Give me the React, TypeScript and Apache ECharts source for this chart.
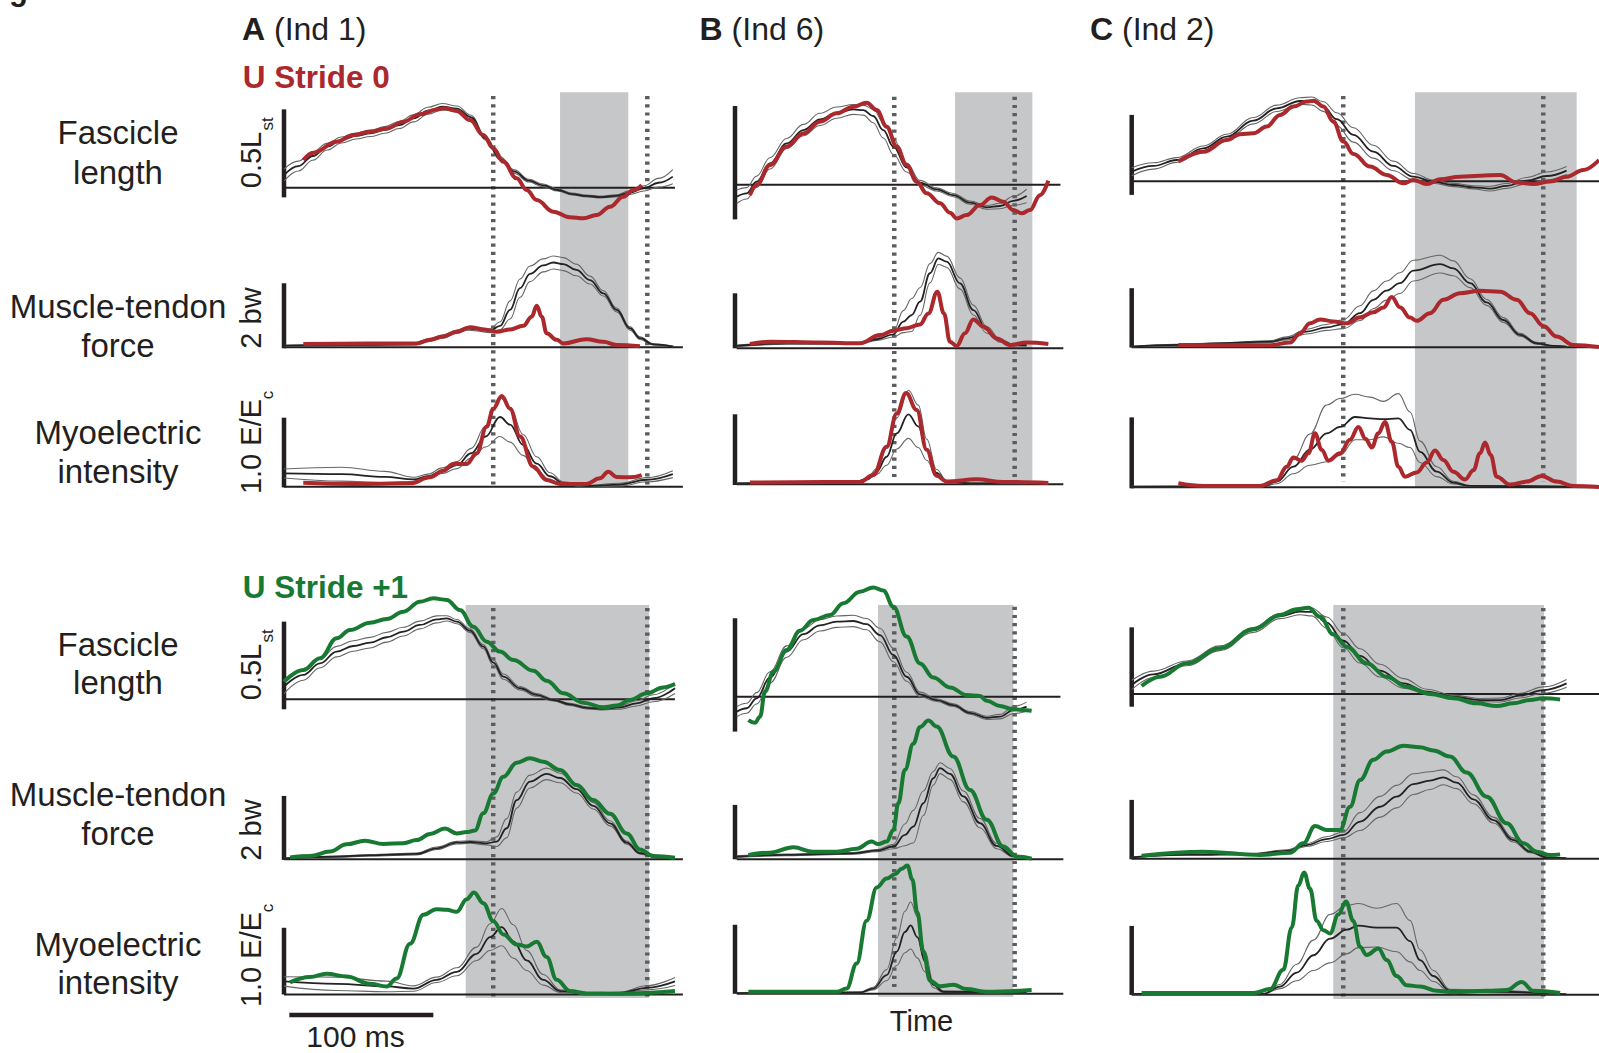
import React, { useEffect, useRef } from 'react';
import * as echarts from 'echarts';

// ---------------- DATA ----------------
// time in ms from each column's scale bar; grey = [t, mean, sd]; coloured = [t, value]
// Fascicle length in Lst, force in bw, myoelectric intensity in E/Ec

// Stride 0, column A (Ind 1)
const fasA0Grey = [[0,0.072,0.034],[10,0.123,0.028],[20,0.18,0.024],[30,0.233,0.019],[40,0.271,0.017],[50,0.294,0.017],[60,0.309,0.018],[70,0.328,0.019],[80,0.356,0.02],[90,0.394,0.02],[100,0.4375,0.02],[110,0.46,0.018],[120,0.449,0.015],[130,0.4,0.012],[140,0.28,0.01],[150,0.167,0.01],[160,0.091,0.01],[170,0.04,0.008],[180,0.013,0.008],[190,-0.013,0.006],[200,-0.036,0.005],[210,-0.047,0.005],[220,-0.053,0.005],[230,-0.047,0.006],[240,-0.028,0.01],[250,-0.004,0.015],[260,0.028,0.025],[270,0.063,0.04]];
const fasA0Red = [[13.4,0.157],[20.4,0.199],[36.6,0.261],[48.1,0.299],[59.7,0.318],[71.3,0.337],[82.9,0.375],[94.4,0.417],[106,0.445],[111.8,0.451],[119.9,0.436],[129.2,0.384],[138.4,0.299],[145.4,0.223],[152.3,0.148],[161.6,0.053],[168.5,-0.013],[175.5,-0.07],[187,-0.136],[198.6,-0.168],[207.9,-0.174],[217.1,-0.155],[226.4,-0.108],[235.6,-0.051],[242.6,-0.013],[248.4,0.015]];
const frcA0Grey = [[0,0.05,0.01],[40,0.07,0.02],[90,0.1,0.03],[100,0.21,0.04],[110,0.33,0.05],[120,0.48,0.05],[126.9,0.58,0.05],[133.8,0.55,0.05],[143.1,0.51,0.06],[150,0.66,0.12],[157,1.15,0.28],[163.9,1.82,0.28],[170.8,2.26,0.24],[180,2.52,0.2],[187,2.61,0.2],[194,2.56,0.2],[203,2.38,0.18],[212.5,2.07,0.12],[221.8,1.66,0.08],[231,1.15,0.06],[240.3,0.58,0.05],[247.2,0.28,0.04],[256.5,0.09,0.02],[270.4,0.02,0.01]];
const frcA0Red = [[13.4,0.1],[59.7,0.12],[92,0.12],[101.4,0.23],[110.6,0.33],[120,0.48],[129.2,0.62],[138.4,0.55],[147.7,0.48],[157,0.55],[166.2,0.66],[172,0.94],[175.5,1.28],[179,0.94],[182.4,0.43],[189.4,0.23],[194,0.12],[210,0.25],[221.8,0.17],[231,0.07],[247.2,0.03]];
const emgA0Grey = [[0,0.19,0.065],[40,0.18,0.1],[70,0.14,0.08],[90,0.105,0.03],[100,0.15,0.03],[110,0.23,0.04],[120,0.31,0.05],[130,0.48,0.07],[140,0.72,0.15],[150,1.0,0.28],[157,0.89,0.25],[166,0.6,0.15],[175.5,0.33,0.1],[184.7,0.15,0.05],[194,0.05,0.02],[210,0.01,0.01],[233,0.03,0.02],[252,0.1,0.03],[270,0.18,0.05]];
const emgA0Red = [[13.4,0.057],[48,0.04],[87.5,0.048],[101.4,0.134],[110.6,0.23],[117.6,0.325],[126.9,0.325],[133.8,0.48],[140.7,0.86],[145.4,1.12],[151.2,1.3],[157,1.12],[163.9,0.72],[173,0.29],[182.4,0.096],[191.7,0.04],[210,0.04],[219.4,0.12],[225.2,0.215],[231,0.14],[240.3,0.134],[248.4,0.167]];

// Stride 0, column B (Ind 6)
const fasB0Grey = [[1.2,-0.053,0.03],[8.1,-0.038,0.025],[15,0.013,0.025],[24.3,0.094,0.025],[35.9,0.182,0.022],[47.5,0.241,0.025],[59,0.288,0.027],[70.6,0.318,0.025],[82.2,0.332,0.022],[89.1,0.329,0.022],[96,0.303,0.03],[103,0.241,0.035],[110,0.168,0.035],[119.2,0.076,0.02],[128.5,0.009,0.01],[140,-0.021,0.007],[151.6,-0.046,0.007],[163.2,-0.079,0.007],[174.8,-0.1,0.008],[184,-0.094,0.012],[193.3,-0.071,0.02],[202.5,-0.05,0.03]];
const fasB0Red = [[10.4,-0.046],[15,-0.001],[24.3,0.087],[35.9,0.168],[47.5,0.226],[59,0.278],[70.6,0.315],[82.2,0.344],[91.4,0.362],[98.4,0.329],[105.3,0.256],[112.3,0.168],[119.2,0.087],[126.2,0.013],[133.1,-0.038],[142.4,-0.082],[149.3,-0.124],[154,-0.149],[160.9,-0.134],[170.1,-0.09],[178.2,-0.056],[186.3,-0.075],[193.3,-0.112],[199,-0.126],[204.9,-0.112],[211.8,-0.046],[217.6,0.018]];
const frcB0Grey = [[1.2,0.085,0.03],[35.9,0.18,0.03],[86.8,0.18,0.03],[98.4,0.33,0.04],[110,0.51,0.1],[116.9,0.97,0.4],[122.7,1.21,0.6],[128.5,1.7,0.5],[135.4,2.73,0.35],[141.2,3.27,0.22],[147,3.15,0.2],[156.2,2.36,0.2],[165.5,1.39,0.18],[174.8,0.67,0.12],[184,0.28,0.06],[193.3,0.12,0.03],[202.5,0.11,0.02]];
const frcB0Red = [[10.4,0.16],[24.3,0.24],[59,0.21],[86.8,0.18],[100.7,0.48],[110,0.64],[119.2,0.73],[128.5,0.87],[134.3,1.27],[140.5,2.06],[145.1,1.27],[149.3,0.24],[154,0.085],[159.7,0.55],[165.5,1.05],[172.5,0.79],[181.7,0.36],[191,0.12],[202.5,0.21],[217.6,0.16]];
const emgB0Grey = [[1.2,0.014,0.005],[82.2,0.024,0.005],[91.4,0.07,0.01],[98.4,0.18,0.04],[105.3,0.39,0.12],[112.3,0.72,0.22],[120.4,0.99,0.34],[127.3,0.82,0.3],[133.1,0.49,0.15],[140,0.16,0.05],[147,0.04,0.01],[163.2,0.014,0.005],[202.5,0.014,0.005]];
const emgB0Red = [[10.4,0.024],[86.8,0.033],[96,0.13],[105.3,0.53],[112.3,1.0],[118.8,1.29],[126.2,1.05],[133.1,0.49],[140,0.12],[147,0.04],[167.8,0.07],[186.3,0.033],[217.6,0.02]];

// Stride 0, column C (Ind 2)
const fasC0Grey = [[0,0.06,0.025],[15,0.096,0.02],[31.3,0.133,0.015],[49.8,0.206,0.015],[66,0.279,0.015],[84.5,0.379,0.02],[100.7,0.456,0.02],[116.9,0.502,0.02],[125,0.502,0.025],[133.1,0.467,0.03],[142.4,0.388,0.04],[154,0.29,0.045],[167.8,0.185,0.04],[181.7,0.096,0.03],[195.6,0.029,0.02],[209.5,-0.002,0.01],[223.4,-0.023,0.01],[237.3,-0.0375,0.01],[248.8,-0.046,0.015],[260.4,-0.029,0.015],[274.3,0.004,0.02],[288.2,0.033,0.025],[302,0.067,0.025]];
const fasC0Red = [[32.4,0.123],[49.8,0.185],[66,0.258],[75.2,0.294],[84.5,0.3],[93.75,0.342],[103,0.415],[112.3,0.467],[121.5,0.498],[126.6,0.504],[133.1,0.467],[140,0.373],[147,0.248],[154,0.171],[165.5,0.092],[177,0.04],[188.7,-0.0125],[195.6,0.008],[204.9,-0.017],[214.1,0.0125],[228,0.029],[241.9,0.035],[255.8,0.04],[267.4,-0.008],[279,-0.017],[290.5,-0.002],[302,0.029],[313.7,0.071],[324.5,0.133]];
const frcC0Grey = [[0,0.02,0.01],[31.3,0.08,0.02],[61.3,0.135,0.02],[96,0.19,0.03],[107.6,0.3,0.05],[121.5,0.53,0.08],[135.4,0.67,0.1],[147,0.78,0.15],[158.6,1.15,0.25],[167.8,1.6,0.3],[177,1.91,0.32],[186.3,2.16,0.35],[195.6,2.58,0.35],[214.1,2.8,0.3],[223.4,2.66,0.25],[235,2.16,0.15],[246.5,1.51,0.1],[258.1,0.92,0.08],[269.7,0.42,0.05],[281.2,0.135,0.03],[292.8,0.045,0.01],[302,0.02,0.005]];
const frcC0Red = [[32.4,0.08],[61.3,0.07],[96,0.07],[110,0.16],[116.9,0.47],[123.8,0.81],[130.8,0.94],[140,0.87],[149.3,0.81],[158.6,1.01],[167.8,1.18],[174.8,1.34],[180.6,1.69],[186.3,1.35],[193.3,1.0],[197.9,0.89],[207.2,1.15],[216.4,1.6],[228,1.82],[241.9,1.9],[255.8,1.87],[267.4,1.6],[276.6,1.15],[285.9,0.72],[295.1,0.36],[306.7,0.08],[324.5,0.01]];
const emgC0Grey = [[0,0.01,0.003],[91.4,0.014,0.005],[100.7,0.08,0.03],[112.3,0.29,0.1],[123.8,0.53,0.22],[135.4,0.76,0.4],[144.7,0.85,0.4],[155.1,0.99,0.32],[165.5,0.97,0.3],[174.8,0.96,0.25],[185.2,0.97,0.35],[193.3,0.81,0.25],[200.2,0.5,0.15],[211.8,0.22,0.07],[223.4,0.066,0.02],[235,0.019,0.005],[302,0.01,0.003]];
const emgC0Red = [[32.4,0.056],[49.8,0.019],[89.1,0.019],[100.7,0.1],[107.6,0.29],[112.3,0.42],[118,0.375],[122.7,0.48],[127.3,0.76],[131.9,0.53],[136.6,0.375],[144.7,0.48],[151.6,0.67],[157.4,0.85],[162.5,0.68],[166.7,0.56],[171.3,0.76],[175.9,0.92],[180.6,0.64],[185.2,0.29],[189.8,0.15],[197.9,0.21],[204.9,0.35],[210.6,0.52],[216.4,0.385],[223.4,0.22],[231.5,0.11],[237.3,0.24],[241.9,0.48],[245.4,0.63],[249.3,0.455],[253.5,0.15],[262.7,0.038],[274.3,0.08],[284.7,0.16],[295.1,0.08],[306.7,0.019],[324.5,0.005]];

// Stride +1, column A
const fasA1Grey = [[0,0.072,0.04],[13.4,0.139,0.03],[25,0.205,0.025],[36.6,0.272,0.03],[48.1,0.304,0.03],[59.7,0.323,0.03],[71.3,0.354,0.028],[82.9,0.386,0.025],[94.4,0.424,0.022],[106,0.456,0.02],[113,0.462,0.015],[120,0.443,0.012],[129.2,0.392,0.01],[138.4,0.3,0.012],[145.4,0.209,0.015],[152.3,0.129,0.015],[163.9,0.063,0.01],[175.5,0.025,0.008],[187,-0.004,0.006],[198.6,-0.029,0.006],[210.2,-0.049,0.006],[221.8,-0.055,0.006],[233.3,-0.046,0.01],[244.9,-0.023,0.015],[256.5,0.006,0.02],[271.5,0.063,0.03]];
const fasA1Green = [[0,0.1],[13.4,0.167],[25,0.234],[36.6,0.348],[45.8,0.395],[59.7,0.437],[71.3,0.458],[82.9,0.5],[94.4,0.557],[103.7,0.576],[113,0.567],[122.2,0.51],[131.5,0.414],[140.7,0.329],[150,0.272],[159.3,0.224],[173.1,0.163],[182.4,0.106],[194,0.034],[207.9,-0.019],[221.8,-0.046],[231,-0.036],[240.3,-0.004],[251.9,0.034],[263.4,0.068],[271.5,0.087]];
const frcA1Grey = [[0,0.03,0.01],[36.6,0.083,0.02],[59.7,0.125,0.02],[92.1,0.167,0.03],[106,0.344,0.04],[120,0.52,0.04],[129.2,0.54,0.04],[140.7,0.5,0.05],[147.7,0.55,0.15],[154.6,0.97,0.3],[161.6,1.85,0.25],[170.8,2.43,0.2],[182.4,2.67,0.18],[191.7,2.54,0.15],[203.2,2.19,0.12],[214.8,1.67,0.1],[226.4,1.125,0.08],[238,0.52,0.05],[247.2,0.19,0.03],[258.8,0.05,0.01],[271.5,0.02,0.005]];
const frcA1Green = [[4.2,0.06],[18,0.1],[32,0.24],[43.5,0.47],[56.2,0.58],[69,0.48],[82.9,0.5],[92.1,0.6],[101.4,0.79],[111.8,0.96],[120,0.81],[126.9,0.85],[132.6,0.9],[138.4,1.44],[145.4,2.06],[152.3,2.58],[161.6,3.02],[170.8,3.16],[180,3.05],[191.7,2.79],[203.2,2.32],[214.8,1.85],[226.4,1.42],[238,0.81],[247.2,0.31],[256.5,0.1],[271.5,0.05]];
const emgA1Grey = [[0,0.195,0.07],[36.6,0.16,0.1],[71.3,0.12,0.08],[89.8,0.088,0.04],[106,0.22,0.04],[120,0.34,0.06],[133.8,0.61,0.1],[143.1,0.86,0.2],[151.2,1.01,0.28],[159.3,0.795,0.25],[168.5,0.51,0.15],[180,0.22,0.08],[191.7,0.05,0.02],[210.2,0.01,0.005],[233.3,0.025,0.01],[251.9,0.1,0.03],[271.5,0.195,0.06]];
const emgA1Green = [[4.2,0.18],[18,0.26],[29.6,0.31],[43.5,0.27],[59.7,0.16],[71.3,0.12],[78.2,0.24],[87.5,0.76],[96.8,1.195],[106,1.28],[113,1.27],[120,1.24],[126.9,1.43],[131.9,1.53],[138.4,1.37],[145.4,1.1],[152.3,0.9],[161.6,0.75],[168.5,0.72],[175.5,0.79],[182.4,0.56],[189.4,0.22],[198.6,0.05],[210.2,0.015],[233.3,0.01],[271.5,0.05]];

// Stride +1, column B
const fasB1Grey = [[1.2,-0.066,0.022],[8.1,-0.051,0.022],[15,-0.007,0.025],[24.3,0.085,0.025],[35.9,0.199,0.025],[47.5,0.276,0.025],[59,0.315,0.025],[70.6,0.331,0.025],[82.2,0.334,0.025],[91.4,0.32,0.025],[100.7,0.272,0.03],[110,0.184,0.03],[119.2,0.088,0.02],[128.5,0.01,0.01],[140,-0.015,0.006],[151.6,-0.037,0.006],[163.2,-0.071,0.006],[174.8,-0.093,0.007],[184,-0.088,0.01],[193.3,-0.059,0.015],[202.5,-0.044,0.02]];
const fasB1Green = [[9.3,-0.103],[13.9,-0.115],[17.4,-0.088],[20.8,0.022],[26.6,0.11],[35.9,0.206],[45.1,0.291],[54.4,0.338],[66,0.36],[75.2,0.412],[86.8,0.463],[96.1,0.482],[103,0.468],[110,0.397],[119.2,0.265],[128.5,0.147],[137.7,0.085],[149.3,0.041],[160.9,0.007],[170.1,0.003],[174.8,-0.018],[184,-0.041],[193.3,-0.056],[206,-0.062]];
const frcB1Grey = [[1.2,0.1,0.03],[35.9,0.16,0.03],[82.2,0.22,0.03],[98.4,0.32,0.04],[110,0.47,0.08],[118,0.9,0.4],[123.8,1.2,0.6],[130.8,2.06,0.45],[137.7,2.98,0.25],[142.4,3.35,0.2],[149.3,3.14,0.2],[158.6,2.31,0.2],[170.1,1.33,0.17],[181.7,0.49,0.1],[193.3,0.12,0.03],[202.5,0.07,0.02]];
const frcB1Green = [[9.3,0.16],[24.3,0.245],[40.5,0.44],[54.4,0.28],[70.6,0.28],[84.5,0.39],[94.9,0.65],[99.5,0.56],[105.3,0.65],[110,1.08],[113.4,2.06],[118,3.29],[123.8,4.25],[128.5,4.86],[134.3,5.1],[140,4.88],[151.6,3.78],[163.2,2.55],[174.8,1.45],[186.3,0.47],[195.6,0.1],[206,0.02]];
const emgB1Grey = [[1.2,0.01,0.005],[86.8,0.02,0.005],[96,0.076,0.02],[105.3,0.27,0.08],[112.3,0.61,0.2],[118,0.895,0.3],[122,0.99,0.34],[126.6,0.82,0.3],[131.9,0.47,0.15],[137.7,0.13,0.04],[144.7,0.03,0.01],[202.5,0.015,0.005]];
const emgB1Green = [[9.3,0.029],[70.6,0.029],[77.5,0.076],[84.5,0.44],[91.4,1.06],[98.4,1.54],[105.3,1.67],[111.1,1.73],[115.7,1.81],[119.7,1.86],[123.1,1.66],[126.6,1.18],[130.8,0.61],[135.4,0.19],[142.4,0.11],[151.6,0.13],[160.9,0.07],[174.8,0.029],[206,0.057]];

// Stride +1, column C
const fasC1Grey = [[0,0.057,0.03],[15,0.124,0.02],[38.2,0.193,0.015],[61.3,0.288,0.015],[84.5,0.403,0.015],[103,0.49,0.015],[116.9,0.519,0.02],[125,0.517,0.025],[135.4,0.45,0.035],[147,0.336,0.045],[158.6,0.24,0.045],[172.5,0.147,0.04],[188.7,0.067,0.03],[204.9,0.015,0.015],[223.4,-0.017,0.01],[241.9,-0.038,0.01],[255.8,-0.038,0.012],[269.7,-0.01,0.015],[285.9,0.025,0.02],[302,0.067,0.025]];
const fasC1Green = [[6.9,0.05],[19.7,0.109],[38.2,0.193],[61.3,0.288],[84.5,0.408],[103,0.498],[114.6,0.534],[122.7,0.544],[130.8,0.487],[140,0.376],[149.3,0.298],[163.2,0.193],[177,0.109],[191,0.046],[207.2,0.0],[223.4,-0.027],[239.6,-0.059],[253.5,-0.076],[265,-0.059],[276.6,-0.038],[285.9,-0.027],[297.5,-0.034]];
const frcC1Grey = [[0,0.045,0.01],[38.2,0.135,0.02],[84.5,0.157,0.02],[107.6,0.26,0.04],[121.5,0.46,0.05],[135.4,0.66,0.08],[147,0.8,0.1],[158.6,1.25,0.3],[172.5,1.75,0.35],[184,2.09,0.38],[195.6,2.51,0.35],[207.2,2.63,0.3],[216.4,2.74,0.25],[225.7,2.56,0.2],[237.3,2.0,0.15],[251.2,1.3,0.1],[265,0.63,0.07],[276.6,0.24,0.04],[288.2,0.045,0.01],[302,0.01,0.005]];
const frcC1Green = [[6.9,0.1],[49.8,0.236],[89.1,0.124],[110,0.2],[119.2,0.52],[127.3,1.1],[135.4,0.97],[144.7,0.97],[151.6,1.75],[158.6,2.65],[167.8,3.33],[177,3.61],[188.7,3.8],[200.2,3.75],[209.5,3.64],[221,3.44],[232.6,2.9],[246.5,2.09],[260.4,1.19],[272,0.52],[281.2,0.236],[290.5,0.124],[297.5,0.146]];
const emgC1Grey = [[0,0.01,0.003],[91.4,0.01,0.003],[103,0.117,0.03],[114.6,0.32,0.12],[126.2,0.57,0.22],[137.7,0.81,0.35],[149.3,0.94,0.35],[157.4,1.0,0.32],[170.1,0.97,0.28],[184,0.97,0.35],[193.3,0.775,0.3],[200.2,0.5,0.15],[209.5,0.27,0.08],[221,0.056,0.02],[302,0.005,0.003]];
const emgC1Green = [[6.9,0.023],[84.5,0.023],[96.1,0.08],[105.3,0.36],[111.1,0.97],[115.7,1.58],[119.7,1.77],[123.8,1.535],[128.5,1.066],[133.1,0.934],[137.7,0.887],[143.5,1.16],[148.8,1.35],[153.9,1.066],[158.6,0.69],[163.2,0.573],[171.3,0.667],[177.1,0.5],[184,0.27],[191,0.136],[200.2,0.117],[211.8,0.056],[223.4,0.033],[246.5,0.056],[260.4,0.066],[270.8,0.183],[278.9,0.056],[297.5,0.023]];

// stride events (dotted lines, ms) and shaded intervals (ms) per column
const eventsA = [145.3, 252.3];
const eventsB = [110.6, 194.2];
const eventsC = [146.9, 285.8];
const shadeStride0 = [[191.7, 239.1], [152.8, 206.5], [196.7, 309]];
const shadeStride1 = [[126.2, 253.5], [99.3, 193.3], [140, 286.3]];

const columnLetters = ['A', 'B', 'C'];
const columnInds = ['(Ind 1)', '(Ind 6)', '(Ind 2)'];
const strideTitles = ['U Stride 0', 'U Stride +1'];
const rowLabels = [['Fascicle', 'length'], ['Muscle-tendon', 'force'], ['Myoelectric', 'intensity']];
const scaleValues = [0.5, 2, 1.0];
const timeBarMs = 100;

// ---------------- LAYOUT / STYLE ----------------
const FONT = '"Liberation Sans", Arial, Helvetica, sans-serif';
const RED = '#ab282d';
const GREEN = '#187a32';
const INK = '#231f20';
const SHADE = '#c6c7c9';
const DOT = '#5c5d60';
const PX_MS = 1.44;
const COL_X0 = [284, 735, 1131.7];
const T_MIN = -20;
const T_MAX = [340, 340, 324];

const BASE_Y = [
  [[187.7, 347.3, 486.7], [184.7, 348.3, 484.3], [181.3, 347.3, 487.3]],
  [[699.3, 859.3, 998.3], [696.7, 859.3, 996], [694, 858.7, 999]],
];
const UNIT_PX = [
  [[176, 32.5, 69.7], [226.7, 27.5, 70.7], [160, 29.7, 71]],
  [[175.3, 32, 68.3], [226.7, 27.2, 70], [158.7, 29.7, 71]],
];
const BAR_LO = [
  [[-0.055, -0.03, -0.01], [-0.153, 0, -0.01], [-0.085, -0.01, -0.015]],
  [[-0.057, -0.02, 0], [-0.154, 0, 0], [-0.08, -0.02, -0.005]],
];
const BASE_T = [
  [[0, 271.5], [0, 277], [0, 277]],
  [[0, 226], [1.2, 228], [1.2, 228]],
  [[0, 325], [0, 325], [0, 325]],
];
const SHADE_Y = [[[92.3, 487], [92.3, 485], [92.3, 487.3]], [[605, 998], [605, 996.7], [605, 999]]];
const DOT_Y = [[[96, 488], [96.7, 480], [96, 481.7]], [[608, 1000], [606.7, 991.7], [608, 998]]];

const PANELS = [
  [
    [[fasA0Grey, fasA0Red], [frcA0Grey, frcA0Red], [emgA0Grey, emgA0Red]],
    [[fasB0Grey, fasB0Red], [frcB0Grey, frcB0Red], [emgB0Grey, emgB0Red]],
    [[fasC0Grey, fasC0Red], [frcC0Grey, frcC0Red], [emgC0Grey, emgC0Red]],
  ],
  [
    [[fasA1Grey, fasA1Green], [frcA1Grey, frcA1Green], [emgA1Grey, emgA1Green]],
    [[fasB1Grey, fasB1Green], [frcB1Grey, frcB1Green], [emgB1Grey, emgB1Green]],
    [[fasC1Grey, fasC1Green], [frcC1Grey, frcC1Green], [emgC1Grey, emgC1Green]],
  ],
];
const EVENTS = [eventsA, eventsB, eventsC];
const SHADES = [shadeStride0, shadeStride1];

function buildOption() {
  const grid: any[] = [];
  const xAxis: any[] = [];
  const yAxis: any[] = [];
  const series: any[] = [];

  const addGrid = (col: number, top: number, height: number, ymin: number, ymax: number, inverse = false) => {
    const i = grid.length;
    grid.push({ left: COL_X0[col] + T_MIN * PX_MS, width: (T_MAX[col] - T_MIN) * PX_MS, top, height, show: false, containLabel: false });
    xAxis.push({ type: 'value', gridIndex: i, min: T_MIN, max: T_MAX[col], show: false });
    yAxis.push({ type: 'value', gridIndex: i, min: ymin, max: ymax, show: false, inverse });
    return i;
  };
  const line = (gi: number, data: number[][], color: string, width: number, z: number, smooth: any = false, type: any = 'solid') => ({
    type: 'line', xAxisIndex: gi, yAxisIndex: gi, data, symbol: 'none', silent: true, clip: false,
    smooth, smoothMonotone: 'x', z, animation: false,
    lineStyle: { color, width, type, cap: 'butt', join: 'round' },
  });

  for (let b = 0; b < 2; b++) {
    for (let c = 0; c < 3; c++) {
      const og = addGrid(c, 0, 1053, 0, 1053, true);
      const [s1, s2] = SHADES[b][c];
      const [sy1, sy2] = SHADE_Y[b][c];
      series.push({
        type: 'line', xAxisIndex: og, yAxisIndex: og, data: [[s1, sy1]], symbol: 'none', silent: true, z: 1,
        lineStyle: { opacity: 0 },
        markArea: { silent: true, itemStyle: { color: SHADE, opacity: 1 }, data: [[{ coord: [s1, sy1] }, { coord: [s2, sy2] }]] },
      });
      const [dy1, dy2] = DOT_Y[b][c];
      EVENTS[c].forEach((t) => series.push(line(og, [[t, dy1], [t, dy2]], DOT, 4.5, 2, false, [3.2, 5])));
      if (b === 1 && c === 0) {
        series.push(line(og, [[3.7, 1015], [3.7 + timeBarMs, 1015]], INK, 4.5, 3));
      }

      for (let r = 0; r < 3; r++) {
        const by = BASE_Y[b][c][r];
        const k = UNIT_PX[b][c][r];
        const gi = addGrid(c, by - 160, 220, -60 / k, 160 / k);
        const [grey, coloured] = PANELS[b][c][r];
        const [t0, t1] = BASE_T[c][r];
        series.push(line(gi, [[t0, 0], [t1, 0]], INK, 2, 3));
        const lo = BAR_LO[b][c][r];
        series.push(line(gi, [[0, lo], [0, lo + scaleValues[r]]], INK, 4.5, 3));
        series.push(line(gi, grey.map((p) => [p[0], p[1] + p[2]]), '#666666', 1.1, 4, 0.4));
        series.push(line(gi, grey.map((p) => [p[0], p[1] - p[2]]), '#666666', 1.1, 4, 0.4));
        series.push(line(gi, grey.map((p) => [p[0], p[1]]), '#222222', 1.8, 5, 0.4));
        series.push(line(gi, coloured, b === 0 ? RED : GREEN, 4, 6, 0.4));
      }
    }
  }

  const txt = (x: number, y: number, text: string, o: any = {}) => ({
    type: 'text', x, y, rotation: o.rotation || 0, silent: true, z: 10,
    style: {
      text, fill: o.fill || INK, fontSize: o.size || 33, fontFamily: FONT, fontWeight: o.weight || 'normal',
      textAlign: o.align || 'left', align: o.align || 'left', textVerticalAlign: 'middle', verticalAlign: 'middle',
      rich: o.rich,
    },
  });
  const graphic: any[] = [];
  graphic.push(txt(9, -11, 'g', { weight: 'bold', size: 31 }));
  const headX = [242, 699.6, 1090];
  for (let c = 0; c < 3; c++) {
    graphic.push(txt(headX[c], 29, `{b|${columnLetters[c]}} ${columnInds[c]}`, {
      size: 32, rich: { b: { fontWeight: 'bold', fontSize: 32, fontFamily: FONT, fill: INK } },
    }));
  }
  graphic.push(txt(242.7, 77, strideTitles[0], { weight: 'bold', size: 31.5, fill: RED }));
  graphic.push(txt(242.7, 587, strideTitles[1], { weight: 'bold', size: 31.5, fill: GREEN }));

  const rowY = [[[132, 172], [306, 345], [432, 471]], [[644, 682], [794, 833], [944, 982]]];
  for (let b = 0; b < 2; b++) {
    for (let r = 0; r < 3; r++) {
      graphic.push(txt(118, rowY[b][r][0], rowLabels[r][0], { align: 'center' }));
      graphic.push(txt(118, rowY[b][r][1], rowLabels[r][1], { align: 'center' }));
    }
    const off = b === 0 ? 0 : 1;
    const rot = Math.PI / 2;
    const fasC = off ? 672 : 160;
    const frcC = off ? 830 : 318;
    const emgC = off ? 959.5 : 446.5;
    graphic.push(txt(251, fasC, `${scaleValues[0]}L`, { align: 'center', size: 29, rotation: rot }));
    graphic.push(txt(267, fasC - 36, 'st', { align: 'center', size: 17, rotation: rot }));
    graphic.push(txt(251, frcC, `${scaleValues[1]} bw`, { align: 'center', size: 29, rotation: rot }));
    graphic.push(txt(251, emgC, `${scaleValues[2].toFixed(1)} E/E`, { align: 'center', size: 29, rotation: rot }));
    graphic.push(txt(267.5, emgC - 51.5, 'c', { align: 'center', size: 17, rotation: rot }));
  }
  graphic.push(txt(355.5, 1036.5, `${timeBarMs} ms`, { align: 'center', size: 30 }));
  graphic.push(txt(921.5, 1021, 'Time', { align: 'center', size: 29 }));

  return { animation: false, backgroundColor: '#ffffff', grid, xAxis, yAxis, series, graphic };
}

export default function App() {
  const ref = useRef<HTMLDivElement>(null);
  useEffect(() => {
    const chart = echarts.init(ref.current as HTMLDivElement, undefined, { renderer: 'svg' });
    chart.setOption(buildOption() as any);
    return () => chart.dispose();
  }, []);
  return (
    <div
      ref={ref}
      style={{ position: 'fixed', left: 0, top: 0, width: 1599, height: 1053, background: '#fff' }}
    />
  );
}
